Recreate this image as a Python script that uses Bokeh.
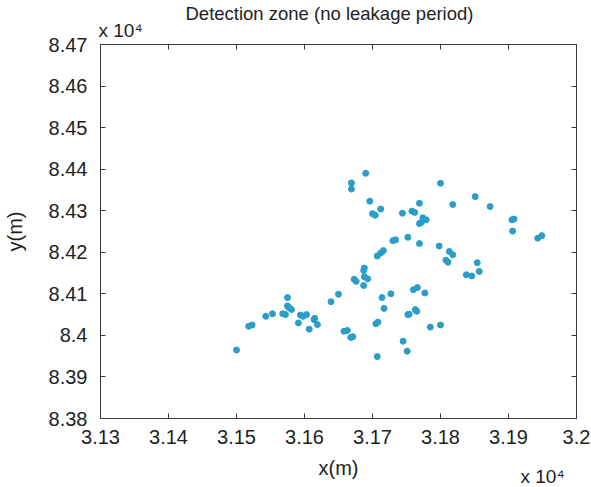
from bokeh.plotting import figure
from bokeh.models import (ColumnDataSource, Range1d, LinearAxis, FixedTicker, Title)
from bokeh.embed import file_html
from bokeh.resources import INLINE

# Detection points (metres)
x_m = [31690, 31669, 31669, 31696, 31700, 31704, 31712, 31744, 31730, 31734,
       31707, 31712, 31716, 31688, 31687, 31673, 31676, 31688, 31693, 31687,
       31650, 31639, 31575, 31575, 31577, 31581, 31553, 31543, 31568, 31572,
       31594, 31598, 31603, 31615, 31614, 31619, 31591, 31607, 31518, 31523,
       31500, 31658, 31663, 31668, 31671, 31714, 31727, 31717, 31705, 31708,
       31707, 31745, 31751, 31800, 31851, 31818, 31873, 31769, 31758, 31762,
       31774, 31779, 31769, 31772, 31905, 31908, 31906, 31943, 31949, 31752,
       31769, 31798, 31813, 31818, 31808, 31811, 31854, 31857, 31838, 31846,
       31760, 31766, 31777, 31754, 31752, 31763, 31765, 31785, 31800]
y_m = [84390, 84367, 84352, 84323, 84293, 84289, 84304, 84294, 84228, 84230,
       84191, 84198, 84204, 84162, 84156, 84135, 84130, 84141, 84136, 84120,
       84099, 84081, 84091, 84071, 84067, 84062, 84052, 84046, 84052, 84050,
       84049, 84046, 84050, 84041, 84038, 84026, 84030, 84015, 84022, 84025,
       83965, 84010, 84012, 83995, 83997, 84091, 84100, 84065, 84028, 84032,
       83949, 83986, 83962, 84366, 84334, 84315, 84310, 84318, 84299, 84296,
       84283, 84278, 84269, 84272, 84278, 84280, 84251, 84234, 84240, 84236,
       84221, 84215, 84202, 84194, 84181, 84176, 84175, 84154, 84146, 84143,
       84110, 84115, 84102, 84051, 84050, 84062, 84058, 84020, 84025]

x_ticks = [31300, 31400, 31500, 31600, 31700, 31800, 31900, 32000]
x_tick_labels = ["3.13", "3.14", "3.15", "3.16", "3.17", "3.18", "3.19", "3.2"]
y_ticks = [83800, 83900, 84000, 84100, 84200, 84300, 84400, 84500, 84600, 84700]
y_tick_labels = ["8.38", "8.39", "8.4", "8.41", "8.42", "8.43", "8.44", "8.45", "8.46", "8.47"]
multiplier = "x 10\u2074"

FONT = "Liberation Sans"
TXT = "#222222"
LINE = "#3a3a3a"

p = figure(width=591, height=487, output_backend="svg", toolbar_location=None,
           x_range=Range1d(31300, 32000), y_range=Range1d(83800, 84700),
           min_border_left=96, min_border_right=15, min_border_top=44, min_border_bottom=69)
p.title = Title(text="Detection zone (no leakage period)", align="left",
                text_font=FONT, text_font_size="18.5px", text_font_style="normal",
                text_color=TXT, offset=85, standoff=-19)
p.xgrid.visible = False
p.ygrid.visible = False
p.outline_line_color = LINE
p.outline_line_width = 1
p.background_fill_color = "white"
p.border_fill_color = "white"

src = ColumnDataSource(dict(x=x_m, y=y_m))
p.scatter("x", "y", source=src, size=6, fill_color="#2a9dc8", line_color="#2a9dc8")

xt = FixedTicker(ticks=x_ticks)
yt = FixedTicker(ticks=y_ticks)

for ax, tk, lbls in [(p.xaxis[0], xt, x_tick_labels), (p.yaxis[0], yt, y_tick_labels)]:
    ax.ticker = tk
    ax.major_label_overrides = {t: l for t, l in zip(tk.ticks, lbls)}
    ax.major_label_text_font = FONT
    ax.major_label_text_font_size = "20px"
    ax.major_label_text_color = TXT
    ax.major_tick_in = 5
    ax.major_tick_out = 0
    ax.minor_tick_in = 0
    ax.minor_tick_out = 0
    ax.axis_line_color = LINE
    ax.major_tick_line_color = LINE
    ax.axis_label_text_font = FONT
    ax.axis_label_text_font_size = "20px"
    ax.axis_label_text_font_style = "normal"
    ax.axis_label_text_color = TXT

p.xaxis[0].axis_label = "x(m)"
p.yaxis[0].axis_label = "y(m)"
p.xaxis[0].major_label_standoff = 11
p.yaxis[0].major_label_standoff = 13
p.xaxis[0].axis_label_standoff = 10
p.yaxis[0].axis_label_standoff = 20

for loc, tk in [("above", xt), ("right", yt)]:
    ax = LinearAxis(ticker=tk)
    ax.major_label_text_font_size = "0px"
    ax.major_tick_in = 5
    ax.major_tick_out = 0
    ax.minor_tick_in = 0
    ax.minor_tick_out = 0
    ax.axis_line_color = LINE
    ax.major_tick_line_color = LINE
    ax.major_label_standoff = 0
    p.add_layout(ax, loc)

# multiplier texts ("x 10^4") above the y axis and below the x axis
p.add_layout(Title(text=multiplier, align="left", offset=-2, standoff=7,
                   text_font=FONT, text_font_size="19px", text_font_style="normal",
                   text_color=TXT), "above")
p.add_layout(Title(text=multiplier, align="left", offset=420, standoff=-32,
                   vertical_align="top",
                   text_font=FONT, text_font_size="19px", text_font_style="normal",
                   text_color=TXT), "below")

open("out.html", "w").write(file_html(p, INLINE))
